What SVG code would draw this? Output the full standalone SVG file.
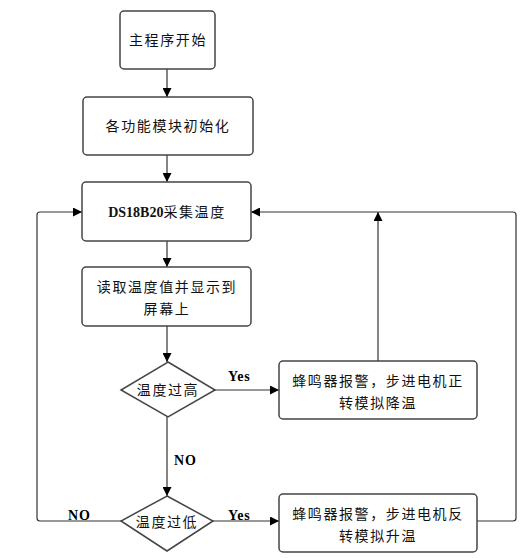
<svg xmlns="http://www.w3.org/2000/svg" width="532" height="558" viewBox="0 0 532 558">
<defs>
<marker id="ah" viewBox="0 0 10 10" refX="10" refY="5" markerWidth="9" markerHeight="9" markerUnits="userSpaceOnUse" orient="auto"><path d="M0,0 L10,5 L0,10 z" fill="#000"/></marker>
<style>
.box{fill:#fff;stroke:#444;stroke-width:1.5}
.t{font-family:"Noto Sans CJK SC","Noto Sans",sans-serif;font-size:14px;letter-spacing:1.6px;fill:#111;text-anchor:middle}
.lbl{font-family:"Liberation Serif",serif;font-size:14px;font-weight:bold;letter-spacing:0.8px;fill:#000}
.c{fill:none;stroke:#333;stroke-width:1.2}
</style>
</defs>
<rect width="532" height="558" fill="#fff"/>
<g id="connectors">
<path class="c" d="M167,69 V97" marker-end="url(#ah)"/>
<path class="c" d="M167,155 V182" marker-end="url(#ah)"/>
<path class="c" d="M167,241 V267" marker-end="url(#ah)"/>
<path class="c" d="M167,326 V362" marker-end="url(#ah)"/>
<path class="c" d="M167,417 V496" marker-end="url(#ah)"/>
<path class="c" d="M215,390 H279" marker-end="url(#ah)"/>
<path class="c" d="M213,521 H279" marker-end="url(#ah)"/>
<path class="c" d="M378,361 V212" marker-end="url(#ah)"/>
<path class="c" d="M477,521 H513 Q516,521 516,518 V215 Q516,212 513,212 H251" marker-end="url(#ah)"/>
<path class="c" d="M121,521 H40 Q37,521 37,518 V215 Q37,212 40,212 H82" marker-end="url(#ah)"/>
<text class="lbl" x="228" y="381">Yes</text>
<text class="lbl" x="174" y="465">NO</text>
<text class="lbl" x="228" y="520">Yes</text>
<text class="lbl" x="68" y="520">NO</text>
</g>
<g id="start"><rect class="box" x="120" y="11" width="95" height="58" rx="4"/><text class="t" x="168" y="45">主程序开始</text></g>
<g id="init"><rect class="box" x="83" y="97" width="170" height="58" rx="4"/><text class="t" x="168" y="131">各功能模块初始化</text></g>
<g id="collect"><rect class="box" x="82" y="182" width="169" height="59" rx="4"/><text class="t" x="167" y="217"><tspan style="font-family:'Liberation Serif',serif;font-weight:bold;letter-spacing:0">DS18B20</tspan>采集温度</text></g>
<g id="display"><rect class="box" x="82" y="267" width="169" height="59" rx="4"/><text class="t" x="167" y="292">读取温度值并显示到</text><text class="t" x="167" y="314">屏幕上</text></g>
<g id="high"><polygon class="box" points="168,362 215,390 168,417 121,390"/><text class="t" x="168" y="395">温度过高</text></g>
<g id="cool"><rect class="box" x="279" y="361" width="198" height="58" rx="4"/><text class="t" x="378" y="386">蜂鸣器报警，步进电机正</text><text class="t" x="378" y="408">转模拟降温</text></g>
<g id="low"><polygon class="box" points="167,496 213,521 167,551 121,521"/><text class="t" x="167" y="527">温度过低</text></g>
<g id="heat"><rect class="box" x="279" y="494" width="198" height="58" rx="4"/><text class="t" x="378" y="519">蜂鸣器报警，步进电机反</text><text class="t" x="378" y="541">转模拟升温</text></g>
</svg>
